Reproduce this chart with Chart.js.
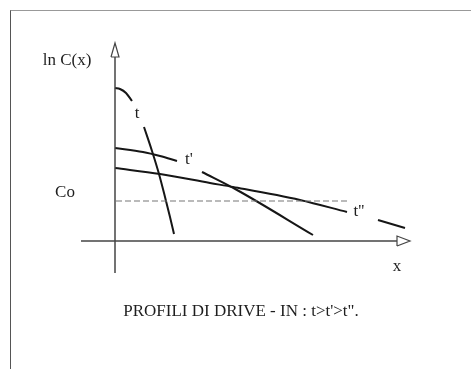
<!DOCTYPE html>
<html>
<head>
<meta charset="utf-8">
<script src="https://cdn.jsdelivr.net/npm/chart.js@4"></script>
<style>
  body { margin: 0; background: #fff; }
  #frame { position: absolute; left: 10px; top: 10px; width: 461px; height: 359px; border-left: 1px solid #555; border-top: 1px solid #999; }
  #chart { position: absolute; left: 0; top: 0; }
</style>
</head>
<body>
<div id="frame"></div>
<canvas id="chart" width="471" height="369"></canvas>
<script>
// profiles of ln C(x); null = break where the curve label sits
const tX = [0, 5, 11, 17, null, 29, 37, 44, 50, 55, 59];
const tY = [153, 152, 148, 140, null, 114, 90, 67, 44, 24, 7];

const t1X = [0, 28, 45, 62, null, 87, 122, 198];
const t1Y = [93, 89, 85, 80, null, 69, 51, 6];

const t2X = [0, 45, 95, 118, 185, 232, null, 263, 290];
const t2Y = [73, 67, 58, 54, 41, 29, null, 21, 13];

// surface concentration level Co
const coX = [1, 232];
const coY = [40, 40];

// axes with open arrow heads
const yAxisX = [0, 0];
const yAxisY = [-32, 184];
const yArrowX = [-4, 0, 4, -4];
const yArrowY = [184, 198, 184, 184];
const xAxisX = [-34, 282];
const xAxisY = [0, 0];
const xArrowX = [282, 295, 282, 282];
const xArrowY = [-5, 0, 5, -5];

const labels = [
  { text: 'ln C(x)', x: -48, y: 180, size: 17 },
  { text: 'Co', x: -50, y: 48, size: 17 },
  { text: 't', x: 22, y: 127, size: 17 },
  { text: "t'", x: 74, y: 81, size: 17 },
  { text: "t''", x: 244, y: 29, size: 17 },
  { text: 'x', x: 282, y: -26, size: 17 },
  { text: 'PROFILI DI DRIVE - IN : t>t\'>t".', x: 126, y: -71, size: 17 }
];

const pts = (xs, ys) => xs.map((v, i) => ({ x: v, y: ys[i] }));

const line = (xs, ys, extra) => Object.assign({
  data: pts(xs, ys),
  borderColor: '#161616',
  borderWidth: 2,
  pointRadius: 0,
  cubicInterpolationMode: 'monotone',
  fill: false,
  spanGaps: false
}, extra);

const textPlugin = {
  id: 'texts',
  afterDatasetsDraw(chart) {
    const { ctx, scales: { x, y } } = chart;
    ctx.save();
    ctx.fillStyle = '#1e1e1e';
    ctx.textAlign = 'center';
    ctx.textBaseline = 'middle';
    labels.forEach((l) => {
      ctx.font = l.size + 'px "Liberation Serif", serif';
      ctx.fillText(l.text, x.getPixelForValue(l.x), y.getPixelForValue(l.y));
    });
    ctx.restore();
  }
};

new Chart(document.getElementById('chart'), {
  type: 'line',
  data: {
    datasets: [
      line(yAxisX, yAxisY, { borderColor: '#444', borderWidth: 1.5, cubicInterpolationMode: 'default', tension: 0 }),
      line(yArrowX, yArrowY, { borderColor: '#444', borderWidth: 1.2, cubicInterpolationMode: 'default', tension: 0 }),
      line(xAxisX, xAxisY, { borderColor: '#444', borderWidth: 1.5, cubicInterpolationMode: 'default', tension: 0 }),
      line(xArrowX, xArrowY, { borderColor: '#444', borderWidth: 1.2, cubicInterpolationMode: 'default', tension: 0 }),
      line(coX, coY, { borderColor: '#777', borderWidth: 1.2, borderDash: [6, 3], cubicInterpolationMode: 'default', tension: 0 }),
      line(tX, tY),
      line(t1X, t1Y),
      line(t2X, t2Y)
    ]
  },
  options: {
    responsive: false,
    animation: false,
    layout: { padding: 0 },
    plugins: { legend: { display: false }, tooltip: { enabled: false } },
    scales: {
      x: { type: 'linear', min: -115, max: 356, display: false },
      y: { type: 'linear', min: -128, max: 241, display: false }
    }
  },
  plugins: [textPlugin]
});
</script>
</body>
</html>
